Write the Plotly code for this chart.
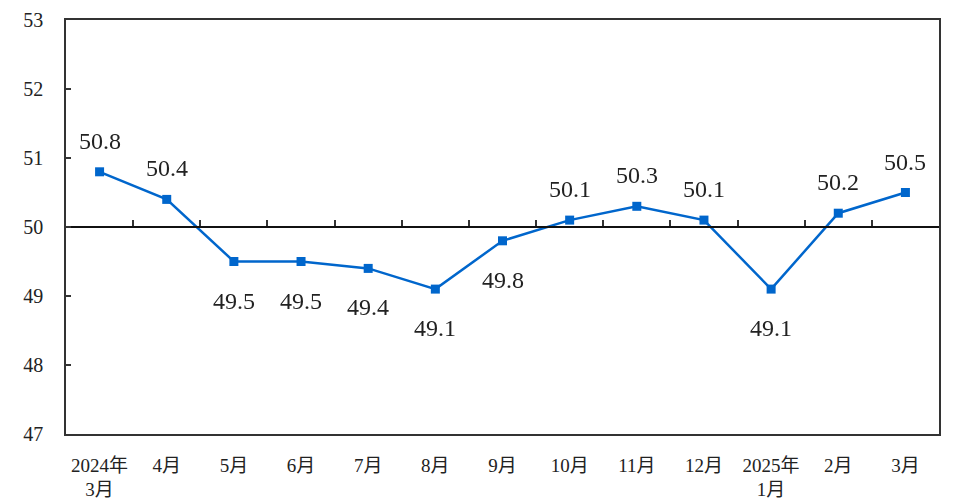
import plotly.graph_objects as go

categories = ["2024年<br>3月", "4月", "5月", "6月", "7月", "8月", "9月", "10月", "11月", "12月",
              "2025年<br>1月", "2月", "3月"]
values = [50.8, 50.4, 49.5, 49.5, 49.4, 49.1, 49.8, 50.1, 50.3, 50.1, 49.1, 50.2, 50.5]
y_ticks = [47, 48, 49, 50, 51, 52, 53]

idx = list(range(len(categories)))
blue = "#0066CC"
serif = "Times New Roman, Liberation Serif, Noto Sans CJK SC, serif"

fig = go.Figure()
fig.add_trace(go.Scatter(
    x=idx, y=values, mode="lines+markers",
    line=dict(color=blue, width=2.5),
    marker=dict(symbol="square", size=9, color=blue),
    hoverinfo="skip", showlegend=False,
))
# helper trace for the 50 baseline axis
fig.add_trace(go.Scatter(
    x=idx, y=values, xaxis="x2", mode="markers", opacity=0,
    hoverinfo="skip", showlegend=False,
))

for i, v in zip(idx, values):
    fig.add_annotation(
        x=i, y=v, text=f"{v:.1f}", showarrow=False,
        yshift=31 if v > 50 else -39,
        font=dict(family=serif, size=24, color="#222"),
    )

fig.update_layout(
    width=944, height=500,
    margin=dict(l=58, r=13, t=12, b=74),
    plot_bgcolor="white", paper_bgcolor="white",
    xaxis=dict(
        range=[-0.5, len(categories) - 0.5],
        tickvals=idx, ticktext=categories,
        showline=True, linecolor="#333", linewidth=1.5, mirror=True,
        ticks="", showgrid=False, zeroline=False, automargin=False,
        ticklabelstandoff=13,
        tickfont=dict(family=serif, size=19, color="#222"),
    ),
    xaxis2=dict(
        range=[-0.5, len(categories) - 0.5],
        overlaying="x", anchor="free", position=0.5, side="top",
        tickvals=[i + 0.5 for i in idx[:-1]],
        showticklabels=False, ticks="outside", ticklen=6, tickwidth=1.5, tickcolor="#333",
        showline=True, linecolor="#111", linewidth=1.5,
        showgrid=False, zeroline=False, automargin=False,
    ),
    yaxis=dict(
        range=[47, 53], tickvals=y_ticks,
        showline=True, linecolor="#333", linewidth=1.5, mirror=True,
        ticks="inside", ticklen=5, tickwidth=1.5, tickcolor="#333",
        showgrid=False, zeroline=False, automargin=False,
        ticklabelstandoff=17,
        tickfont=dict(family=serif, size=20, color="#222"),
    ),
)

fig.write_html("out.html")
